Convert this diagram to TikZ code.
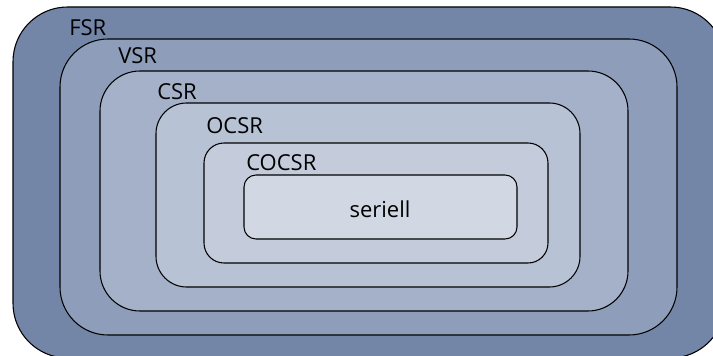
\documentclass[tikz,border=0pt]{standalone}
\usepackage{fontspec}
\setmainfont{Open Sans}

\definecolor{fsrblue}{RGB}{116,134,168}
\definecolor{vsrblue}{RGB}{142,158,186}
\definecolor{csrblue}{RGB}{165,177,201}
\definecolor{ocsrblue}{RGB}{184,194,213}
\definecolor{cocsrblue}{RGB}{196,204,220}
\definecolor{serblue}{RGB}{209,215,227}

\begin{document}
\begin{tikzpicture}[x=0.75pt, y=-0.75pt,
    ring/.style={draw=black, line width=0.8pt},
    lbl/.style={anchor=base west, inner sep=0pt, font=\fontsize{16.5}{19}\selectfont}]
    \useasboundingbox (0,0) rectangle (713,356);
    \clip (0,0) rectangle (713,356);

    % 1. nested classes, outermost first
    \filldraw[ring, fill=fsrblue, rounded corners=41pt] (13,7) rectangle (725,358);
    \filldraw[ring, fill=vsrblue, rounded corners=36pt] (60,39) rectangle (677,335);
    \filldraw[ring, fill=csrblue, rounded corners=30pt] (100,71) rectangle (628,311);
    \filldraw[ring, fill=ocsrblue, rounded corners=23pt] (156,103) rectangle (580,287);
    \filldraw[ring, fill=cocsrblue, rounded corners=15pt] (204,143) rectangle (548,263);
    \filldraw[ring, fill=serblue, rounded corners=9pt] (244,175) rectangle (517,239);

    % 2. class names
    \node[lbl] (fsr) at (69,35.5) {FSR};
    \node[lbl] (vsr) at (118,64) {VSR};
    \node[lbl] (csr) at (157,100) {CSR};
    \node[lbl] (ocsr) at (206,133) {OCSR};
    \node[lbl] (cocsr) at (246,171) {COCSR};
    \node[lbl, anchor=base] (ser) at (380,217) {seriell};
\end{tikzpicture}
\end{document}
